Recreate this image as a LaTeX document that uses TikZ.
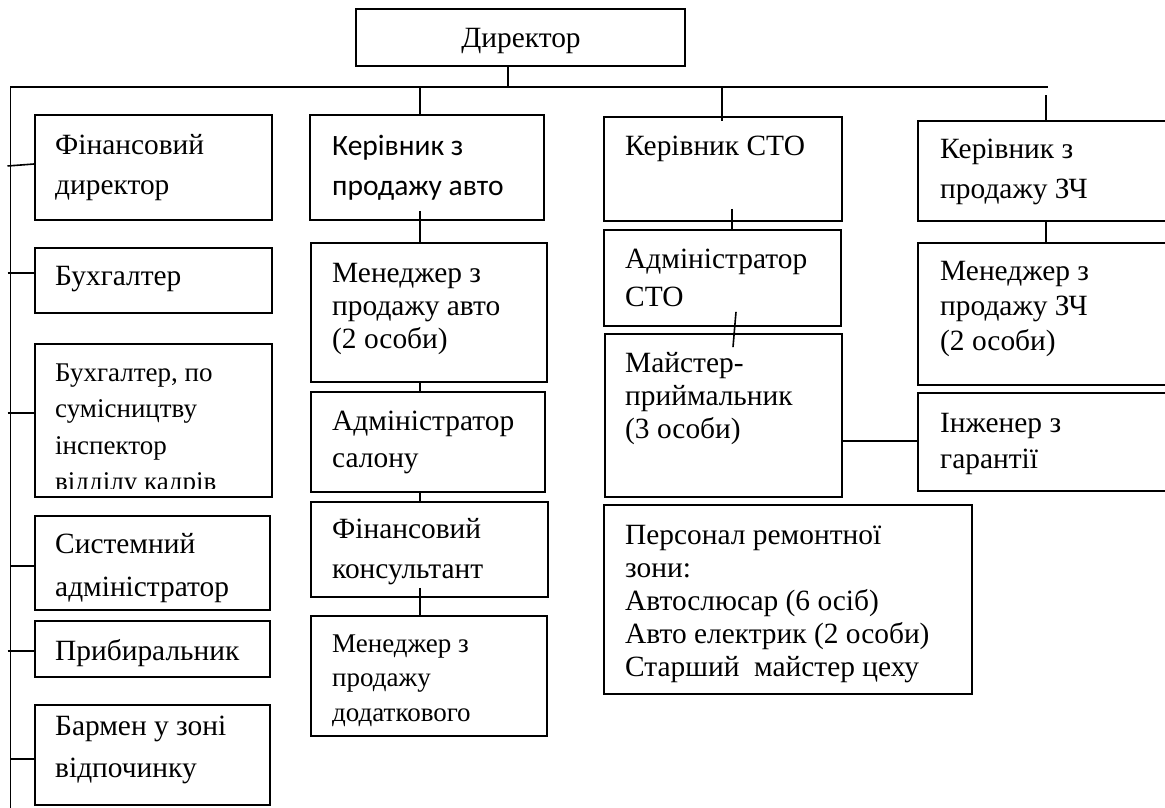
\documentclass[tikz,border=0pt]{standalone}
\usepackage{fontspec}
\setmainfont{Liberation Serif}
\newfontfamily\calib{Carlito}
\usetikzlibrary{fit}
\newcommand\tsz[2]{\fontsize{#1}{#2}\selectfont}
% fixed-height strut that sets the top of the first text line
\newcommand\fl{\rule{0pt}{0.8em}}
\begin{document}
\begin{tikzpicture}[x=1pt,y=-1pt,
  box/.style={draw, line width=1.8pt, inner sep=0pt, rectangle},
  link/.style={line width=1.6pt},
  txt/.style={anchor=north west, inner sep=0pt, align=left},
  big/.style={font=\tsz{29.4}{#1}},
  small/.style={font=\tsz{27}{#1}},
]
\useasboundingbox (0,0) rectangle (1165,808);
\clip (0,0) rectangle (1165,808);

% ---- boxes ----
\node[box, fit={(356,9) (685,66)}] (dir) {};
% left column
\node[box, fit={(35,115) (272,220)}] (findir) {};
\node[box, fit={(35,248) (272,313)}] (buh) {};
\node[box, fit={(35,344) (272,497)}] (buhsum) {};
\node[box, fit={(35,516) (270,610)}] (sysadm) {};
\node[box, fit={(35,621) (270,677)}] (prib) {};
\node[box, fit={(35,705) (270,805)}] (barm) {};
% car sales
\node[box, fit={(310,115) (544,220)}] (kerauto) {};
\node[box, fit={(311,243) (547,382)}] (menauto) {};
\node[box, fit={(311,392) (545,492)}] (admsal) {};
\node[box, fit={(311,502) (548,597)}] (finkons) {};
\node[box, fit={(311,616) (547,736)}] (mendod) {};
% service station
\node[box, fit={(604,117) (842,221)}] (kersto) {};
\node[box, fit={(604,230) (841,326)}] (admsto) {};
\node[box, fit={(605,334) (842,497)}] (maister) {};
\node[box, fit={(604,505) (972,694)}] (personal) {};
% spare parts (boxes run past the right edge)
\node[box, fit={(918,121) (1185,221)}] (kerzch) {};
\node[box, fit={(918,243) (1185,385)}] (menzch) {};
\node[box, fit={(918,393) (1185,491)}] (inzh) {};

% ---- texts ----
\node[anchor=base, inner sep=0pt, big=33] (dirT) at (521,48) {Директор};

\node[txt, big=40] (findirT) at (55,131) {\fl Фінансовий\\директор};
\node[txt, big=33] (buhT) at (55,261.5) {\fl Бухгалтер};
\begin{scope}
  \clip (35,344) rectangle (272,488);
  \node[txt, small=36.5] (buhsumT) at (55,359.5) {\fl Бухгалтер, по\\сумісництву\\інспектор\\відділу кадрів};
\end{scope}
\node[txt, big=43] (sysadmT) at (55,529.5) {\fl Системний\\адміністратор};
\node[txt, big=33] (pribT) at (55,636.5) {\fl Прибиральник};
\node[txt, big=42] (barmT) at (55,711.5) {\fl Бармен у зоні\\відпочинку};

\node[txt, font=\calib\tsz{29.5}{40}] (kerautoT) at (332,131.4) {\fl Керівник з\\продажу авто};
\node[txt, big=33] (menautoT) at (332,258.5) {\fl Менеджер з\\продажу авто\\(2 особи)};
\node[txt, big=37] (admsalT) at (332,406.5) {\fl Адміністратор\\салону};
\node[txt, big=40] (finkonsT) at (332,514.5) {\fl Фінансовий\\консультант};
\node[txt, small=34.5] (mendodT) at (332,630.4) {\fl Менеджер з\\продажу\\додаткового};

\node[txt, big=33] (kerstoT) at (625,131.5) {\fl Керівник СТО};
\node[txt, big=38] (admstoT) at (625,244.5) {\fl Адміністратор\\СТО};
\node[txt, big=33] (maisterT) at (625,348.5) {\fl Майстер-\\приймальник\\(3 особи)};
\node[txt, big=33] (personalT) at (625,520.5) {\fl Персонал ремонтної\\зони:\\Автослюсар (6 осіб)\\Авто електрик (2 особи)\\Старший~~майстер цеху};

\node[txt, big=40] (kerzchT) at (940,134.5) {\fl Керівник з\\продажу ЗЧ};
\node[txt, big=35] (menzchT) at (940,256.5) {\fl Менеджер з\\продажу ЗЧ\\(2 особи)};
\node[txt, big=36] (inzhT) at (940,408.5) {\fl Інженер з\\гарантії};

% ---- connectors ----
\coordinate (busL) at (10,87);
\coordinate (busR) at (1048,87);
\coordinate (stem) at (508,87);
\coordinate (spine) at (10.5,808);
\coordinate (sp) at (7.5,0);
\coordinate (c2) at (420,0);
\coordinate (c3) at (722,0);
\coordinate (c3b) at (732,0);
\coordinate (c4) at (1046,0);

% director to the bus
\draw[link] (stem |- dir.south) -- (stem);
\draw[link] (busL) -- (busR);
\draw[link] (busL -| spine) -- (spine);

% drops from the bus
\draw[link] (c2 |- busL) -- (c2 |- kerauto.north);
\draw[link] (c3 |- busL) -- ([yshift=-5pt]c3 |- kersto.north);
\draw[link] ([yshift=-8pt]c4 |- busL) -- (c4 |- kerzch.north);

% left column ticks
\coordinate (t1) at (0,166);
\coordinate (t2) at (0,273);
\coordinate (t3) at (0,413);
\coordinate (t4) at (0,566);
\coordinate (t5) at (0,651);
\coordinate (t6) at (0,759);
\draw[link] (sp |- t1) -- ([yshift=2pt]findir.west |- t1);
\draw[link] (sp |- t2) -- (buh.west |- t2);
\draw[link] (sp |- t3) -- (buhsum.west |- t3);
\draw[link] (spine |- t4) -- (sysadm.west |- t4);
\draw[link] (sp |- t5) -- (prib.west |- t5);
\draw[link] (spine |- t6) -- (barm.west |- t6);

% car sales chain
\draw[link] ([yshift=10pt]c2 |- kerauto.south) -- (c2 |- menauto.north);
\draw[link] (c2 |- menauto.south) -- (c2 |- admsal.north);
\draw[link] (c2 |- admsal.south) -- (c2 |- finkons.north);
\draw[link] ([yshift=10pt]c2 |- finkons.south) -- (c2 |- mendod.north);

% service station chain
\draw[link] ([yshift=13pt]c3b |- kersto.south) -- (c3b |- admsto.north);
\draw[link] ([shift={(4pt,15pt)}]c3b |- admsto.south) -- ([shift={(1pt,-14pt)}]c3b |- maister.north);
\coordinate (h5) at (0,441);
\draw[link] (maister.east |- h5) -- (inzh.west |- h5);

% spare parts chain
\draw[link] (c4 |- kerzch.south) -- (c4 |- menzch.north);
\end{tikzpicture}
\end{document}
